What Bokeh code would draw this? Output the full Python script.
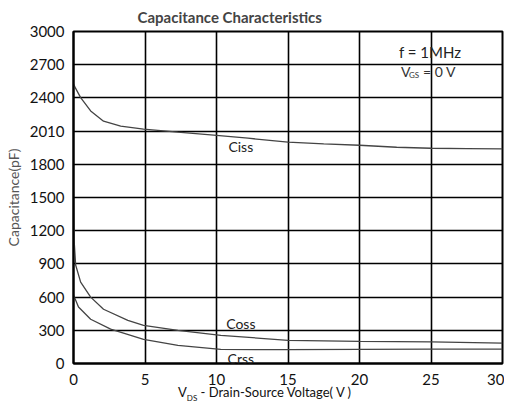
from bokeh.plotting import figure
from bokeh.models import Label, FixedTicker, Range1d, Div
from bokeh.layouts import column
from bokeh.embed import file_html
from bokeh.resources import INLINE

# ---- data ----
ciss_v = [0, 0.14, 0.5, 1.2, 2.1, 3.3, 4.9, 7.3, 9.8, 12.2, 15, 17.5, 20, 22.6, 25, 27.5, 30]
ciss_c = [2527, 2488, 2403, 2282, 2190, 2145, 2118, 2090, 2063, 2036, 2000, 1985, 1972, 1954, 1945, 1942, 1940]

coss_v = [0, 0.05, 0.15, 0.5, 1.2, 2.1, 3.8, 4.9, 7.3, 10.3, 15, 20, 25, 30]
coss_c = [1500, 1100, 890, 735, 600, 490, 390, 345, 300, 255, 209, 200, 195, 185]

crss_v = [0, 0.35, 1.2, 2.6, 4.9, 7.3, 10.3, 15, 20, 25, 30]
crss_c = [620, 510, 400, 310, 218, 164, 127, 125, 128, 130, 130]

x_ticks = [0, 5, 10, 15, 20, 25, 30]
y_ticks = [0, 300, 600, 900, 1200, 1500, 1800, 2100, 2400, 2700, 3000]
y_tick_labels = ["0", "300", "600", "900", "1200", "1500", "1800", "2010", "2400", "2700", "3000"]

FONT = "Lato"
W, H = 504, 387

p = figure(width=W, height=H, output_backend="svg", toolbar_location=None,
           x_range=Range1d(0, 30), y_range=Range1d(0, 3000),
           min_border_left=73, min_border_right=2, min_border_top=30, min_border_bottom=20)

p.title.text = "Capacitance Characteristics"
p.title.text_font = FONT
p.title.text_font_size = "15px"
p.title.text_font_style = "bold"
p.title.align = "left"
p.title.offset = 64
p.title.standoff = 11

p.outline_line_color = "black"
p.outline_line_width = 2
p.background_fill_color = "white"
p.border_fill_color = "white"

for g in (p.xgrid, p.ygrid):
    g.grid_line_color = "black"
    g.grid_line_width = 1.6
    g.grid_line_alpha = 1.0
p.xgrid.ticker = FixedTicker(ticks=x_ticks)
p.ygrid.ticker = FixedTicker(ticks=y_ticks)

p.xaxis.ticker = FixedTicker(ticks=x_ticks)
p.yaxis.ticker = FixedTicker(ticks=y_ticks)
p.yaxis.major_label_overrides = {t: l for t, l in zip(y_ticks, y_tick_labels)}

for ax in (p.xaxis, p.yaxis):
    ax.axis_line_color = "black"
    ax.axis_line_width = 2
    ax.major_tick_line_color = None
    ax.minor_tick_line_color = None
    ax.major_label_text_font = FONT
    ax.major_label_text_font_size = "15px"
    ax.major_label_text_color = "#111111"
p.xaxis.major_label_standoff = 4
p.yaxis.major_label_standoff = 3

p.yaxis.axis_label = "Capacitance(pF)"
p.yaxis.axis_label_text_font = FONT
p.yaxis.axis_label_text_font_size = "14px"
p.yaxis.axis_label_text_font_style = "normal"
p.yaxis.axis_label_text_color = "#555555"
p.yaxis.axis_label_standoff = 5

# curves
p.line(ciss_v, ciss_c, line_color="#444444", line_width=1.3)
p.line(coss_v, coss_c, line_color="#444444", line_width=1.3)
p.line(crss_v, crss_c, line_color="#444444", line_width=1.3)

def lab(x, y, text, size="14px", color="#222222", xo=0, yo=0, align="left", base="middle"):
    p.add_layout(Label(x=x, y=y, text=text, text_font=FONT, text_font_size=size,
                       text_color=color, x_offset=xo, y_offset=yo,
                       text_align=align, text_baseline=base))

# curve labels
lab(11.7, 1963, "Ciss", align="center")
lab(11.7, 364, "Coss", align="center")
lab(11.7, 45, "Crss", align="center")

# conditions
lab(25, 3000, "f  =  1MHz", size="15px", xo=-32, yo=-20)
lab(25, 3000, "V", xo=-30, yo=-40, color="#333333")
lab(25, 3000, "GS", size="8px", xo=-22, yo=-43, color="#333333")
lab(25, 3000, "= 0 V", xo=-8, yo=-40, color="#333333")

# x axis title (with subscript) as real HTML text below the plot
xlabel = Div(
    text='<div style="font-family:Lato;font-size:13px;color:#111;line-height:14px;'
         'padding-left:178px;white-space:nowrap;position:relative;top:-2px;">'
         'V<sub style="font-size:8px;">DS</sub> - Drain-Source Voltage( V )</div>',
    width=W, height=16, margin=(0, 0, 0, 0))

layout = column(p, xlabel, spacing=0)

open("out.html", "w").write(file_html(layout, INLINE))
